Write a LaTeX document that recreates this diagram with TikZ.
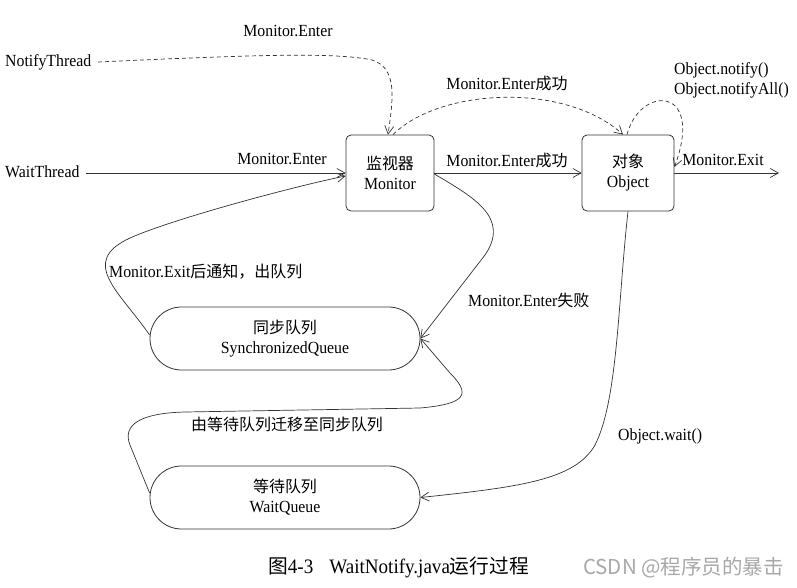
\documentclass[tikz,border=0pt]{standalone}
\usepackage{fontspec}
\setmainfont{Liberation Serif}[FakeStretch=0.93]
\newfontfamily\cjk{Noto Sans CJK SC}[Scale=0.94]
\newfontfamily\wmfont{Noto Sans CJK SC}
\usetikzlibrary{arrows.meta}
\definecolor{ln}{HTML}{333333}
\definecolor{wm}{HTML}{A8A8A8}
\begin{document}
\begin{tikzpicture}[x=1pt,y=-1pt,
  every node/.style={font=\fontsize{17}{20}\selectfont, text=black, inner sep=0pt},
  boxnode/.style={draw=ln, line width=0.8pt, rounded corners=5pt, minimum width=88pt, minimum height=76pt, align=center},
  queue/.style={draw=ln, line width=0.8pt, rounded corners=31.5pt, minimum width=270pt, minimum height=63pt, align=center},
  conn/.style={draw=ln, line width=0.7pt, -{Straight Barb[length=8pt,width=9pt]}},
  dconn/.style={conn, dash pattern=on 4pt off 3pt}]
\useasboundingbox (0,0) rectangle (797,587);
\fill[white] (0,0) rectangle (797,587);

% nodes
\node[boxnode] (mon) at (390,173) {{\cjk 监视器}\\Monitor};
\node[boxnode, minimum width=92pt] (obj) at (628,173) {{\cjk 对象}\\Object};
\node[queue] (sq) at (285,338.5) {{\cjk 同步队列}\\SynchronizedQueue};
\node[queue] (wq) at (285,497.5) {{\cjk 等待队列}\\WaitQueue};

\node[anchor=west] (nt) at (5,62) {NotifyThread};
\node[anchor=west] (wt) at (5,172) {WaitThread};
\coordinate (exitend) at (779,173);
\coordinate (ntstart) at (98,62);
\coordinate (wtstart) at (86,173);

% labels
\node (l1) at (288,31) {Monitor.Enter};
\node (l2) at (282,159) {Monitor.Enter};
\node (l3) at (507,83) {Monitor.Enter{\cjk 成功}};
\node (l4) at (507,160) {Monitor.Enter{\cjk 成功}};
\node[anchor=west, align=left] (l5) at (674,80) {Object.notify()\\Object.notifyAll()};
\node (l6) at (723,160) {Monitor.Exit};
\node[anchor=west] (l7) at (109,272) {Monitor.Exit{\cjk 后通知，出队列}};
\node[anchor=west] (l8) at (468,300) {Monitor.Enter{\cjk 失败}};
\node[anchor=west] (l9) at (191,424) {\cjk 由等待队列迁移至同步队列};
\node[anchor=west] (l10) at (618,436) {Object.wait()};

\node[anchor=west] (cap) at (268,567) {\fontsize{20.5}{24}\selectfont{\cjk\fontsize{21}{24}\selectfont 图}4-3\hspace{16pt}WaitNotify.java{\cjk\fontsize{21}{24}\selectfont 运行过程}};
\node[anchor=west, text=wm] (wmk) at (583,568) {\wmfont\fontsize{20.5}{22}\selectfont CSDN @程序员的暴击};

% connectors
\draw[dconn] (ntstart) .. controls (250,55) and (335,52) .. (372,60) .. controls (398,68) and (393,100) .. (mon.north -| 388,0);
\draw[dconn] (mon.north -| 393,0) .. controls (440,88) and (565,82) .. (obj.north -| 623,0);
\draw[dconn] (obj.north -| 627,0) .. controls (640,85) and (705,85) .. (obj.east |- 0,167);
\draw[conn] (wtstart) -- (mon.west |- 0,173);
\draw[conn] (mon.east |- 0,173) -- (obj.west |- 0,173);
\draw[conn] (obj.east |- 0,173) -- (exitend);
\draw[conn] (sq.west |- 0,335) .. controls (120,292) and (78,262) .. (130,238) .. controls (175,218) and (300,185) .. (mon.west |- 0,176);
\draw[conn] (mon.east |- 0,174) .. controls (475,198) and (510,218) .. (485,255) -- (sq.east);
\draw[conn] (wq.west |- 0,493) -- (130,445) .. controls (122,425) and (140,413) .. (185,412) -- (420,408) .. controls (465,404) and (472,395) .. (450,373) -- (sq.east);
\draw[conn] (obj.south -| 628,0) .. controls (618,300) and (618,400) .. (595,445) .. controls (575,480) and (520,487) .. (wq.east);
\end{tikzpicture}
\end{document}
